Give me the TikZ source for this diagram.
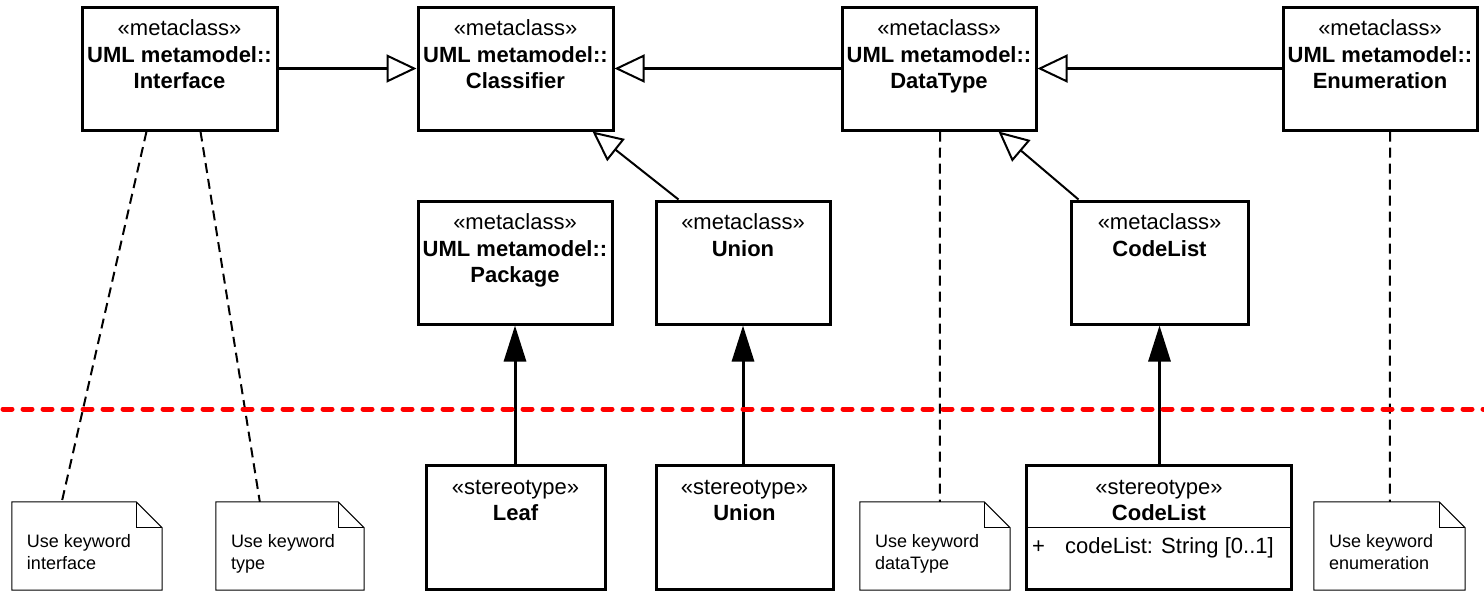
\documentclass[tikz,border=0pt]{standalone}
\usepackage{fontspec}
\setmainfont{Liberation Sans}
\usetikzlibrary{arrows.meta}
\newcommand\drawnotebox[1]{%
  \draw[noteline] (#1.north west) -- ([xshift=-26pt]#1.north east) -- ([yshift=-26pt]#1.north east) -- (#1.south east) -- (#1.south west) -- cycle;
  \draw[noteline] ([xshift=-26pt]#1.north east) -- ([xshift=-26pt,yshift=-26pt]#1.north east) -- ([yshift=-26pt]#1.north east);}
\begin{document}
\begin{tikzpicture}[x=1pt,y=-1pt,
  umlbox/.style={draw, line width=3pt, inner sep=0pt},
  mbox/.style={umlbox, minimum width=195pt, minimum height=123pt},
  lbl/.style={font=\fontsize{22}{26.5}\selectfont, align=center, inner sep=0pt, anchor=north},
  gen/.style={line width=3pt, -{Triangle[open, length=30pt, width=28pt, line width=2pt]}},
  gendiag/.style={line width=2pt, -{Triangle[open, length=30pt, width=28pt, line width=2pt]}},
  ext/.style={line width=3pt, -{Triangle[length=36pt, width=22pt]}},
  dep/.style={line width=2pt, dash pattern=on 10pt off 6pt},
  notenode/.style={minimum width=150pt, minimum height=88pt, inner sep=0pt},
  noteline/.style={line width=1pt, line join=miter},
  notetext/.style={font=\fontsize{18}{22}\selectfont, align=left, inner sep=0pt, anchor=north west},
  redline/.style={red, line width=5pt, dash pattern=on 9pt off 11pt, line cap=round}
]
\useasboundingbox (0,0) rectangle (1484,595);

% metaclass boxes
\node[mbox] (iface) at (179.5,68.5) {};
\node[mbox] (classif) at (515.5,68.5) {};
\node[mbox, minimum width=194pt] (dtype) at (939,68.5) {};
\node[mbox, minimum width=194pt] (enum) at (1380,68.5) {};
\node[mbox, minimum width=194pt] (pkg) at (515,262.5) {};
\node[mbox, minimum width=174pt] (unionM) at (743,262.5) {};
\node[mbox, minimum width=177pt] (codeM) at (1159.5,262.5) {};

\node[lbl] (ifaceT) at ([yshift=-14pt]iface.north) {«metaclass»\\\textbf{UML metamodel::}\\\textbf{Interface}};
\node[lbl] (classifT) at ([yshift=-14pt]classif.north) {«metaclass»\\\textbf{UML metamodel::}\\\textbf{Classifier}};
\node[lbl] (dtypeT) at ([yshift=-14pt]dtype.north) {«metaclass»\\\textbf{UML metamodel::}\\\textbf{DataType}};
\node[lbl] (enumT) at ([yshift=-14pt]enum.north) {«metaclass»\\\textbf{UML metamodel::}\\\textbf{Enumeration}};
\node[lbl] (pkgT) at ([yshift=-14pt]pkg.north) {«metaclass»\\\textbf{UML metamodel::}\\\textbf{Package}};
\node[lbl] (unionMT) at ([yshift=-14pt]unionM.north) {«metaclass»\\\textbf{Union}};
\node[lbl] (codeMT) at ([yshift=-14pt]codeM.north) {«metaclass»\\\textbf{CodeList}};

% stereotype boxes
\node[umlbox, minimum width=179pt, minimum height=124pt] (leaf) at (515.5,527) {};
\node[umlbox, minimum width=177pt, minimum height=124pt] (unionS) at (744.5,527) {};
\node[umlbox, minimum width=265pt, minimum height=124pt] (codeS) at (1159,527) {};

\node[lbl] (leafT) at ([yshift=-16.5pt]leaf.north) {«stereotype»\\\textbf{Leaf}};
\node[lbl] (unionST) at ([yshift=-16.5pt]unionS.north) {«stereotype»\\\textbf{Union}};
\node[lbl] (codeST) at ([yshift=-16.5pt]codeS.north) {«stereotype»\\\textbf{CodeList}};
\draw[line width=1.5pt] ([yshift=-64pt]codeS.north west) -- ([yshift=-64pt]codeS.north east);
\node[font=\fontsize{22}{26.5}\selectfont, inner sep=0pt, anchor=base west] (codeAttr) at ([xshift=7pt,yshift=-90pt]codeS.north west) {+\hspace{20pt}codeList: String [0..1]};

% notes
\node[notenode] (n1) at (87,546) {};
\node[notenode, minimum width=148pt] (n2) at (290,546) {};
\node[notenode] (n3) at (935,546) {};
\node[notenode, minimum width=151pt] (n4) at (1389.5,546) {};
\drawnotebox{n1}
\drawnotebox{n2}
\drawnotebox{n3}
\drawnotebox{n4}
\node[notetext] (n1T) at ([xshift=15pt,yshift=-32pt]n1.north west) {Use keyword\\interface};
\node[notetext] (n2T) at ([xshift=15pt,yshift=-32pt]n2.north west) {Use keyword\\type};
\node[notetext] (n3T) at ([xshift=15pt,yshift=-32pt]n3.north west) {Use keyword\\dataType};
\node[notetext] (n4T) at ([xshift=15pt,yshift=-32pt]n4.north west) {Use keyword\\enumeration};

% generalizations
\draw[gen] (iface.east) -- (classif.west);
\draw[gen] (dtype.west) -- (classif.east);
\draw[gen] (enum.west) -- (dtype.east);
\draw[gendiag] ([xshift=24pt]unionM.north west) -- ([xshift=-22pt]classif.south east);
\draw[gendiag] ([xshift=9pt]codeM.north west) -- ([xshift=-39pt]dtype.south east);

% extensions
\draw[ext] (leaf.north -| pkg.south) -- (pkg.south);
\draw[ext] (unionS.north -| unionM.south) -- (unionM.south);
\draw[ext] (codeS.north -| codeM.south) -- (codeM.south);

% note anchors
\draw[dep] ([xshift=66pt]iface.south west) -- ([xshift=50pt]n1.north west);
\draw[dep] ([xshift=120pt]iface.south west) -- ([xshift=44pt]n2.north west);
\draw[dep] ([xshift=1pt]dtype.south) -- ([xshift=80pt]n3.north west);
\draw[dep] ([xshift=10pt]enum.south) -- ([xshift=76pt]n4.north west);

% separator
\coordinate (redL) at (3,409);
\coordinate (redR) at (1484,409);
\draw[redline] (redL) -- (redR);
\end{tikzpicture}
\end{document}
